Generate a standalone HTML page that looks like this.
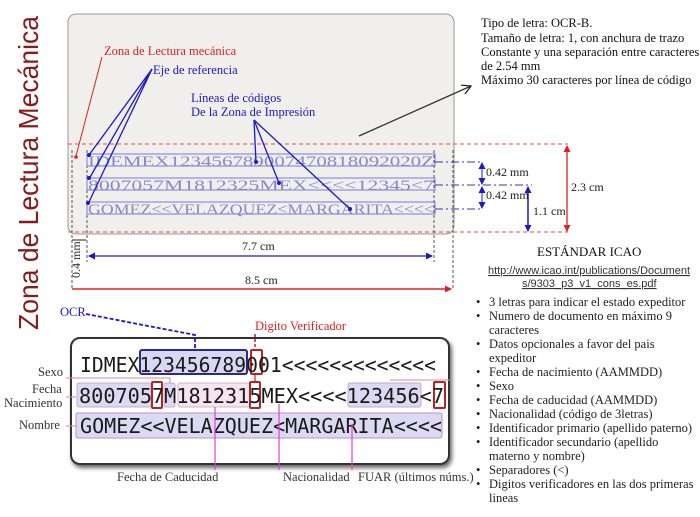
<!DOCTYPE html>
<html><head><meta charset="utf-8"><style>
html,body{margin:0;padding:0;background:#fff;width:700px;height:517px;overflow:hidden}
.mono{font-family:"DejaVu Sans Mono","Liberation Mono",monospace}
.sans{font-family:"Liberation Sans",sans-serif}
</style></head><body>
<svg width="700" height="517" viewBox="0 0 700 517" xmlns="http://www.w3.org/2000/svg" font-family="Liberation Serif, serif">
<defs>
<marker id="ab" markerUnits="userSpaceOnUse" markerWidth="7" markerHeight="7" refX="6" refY="3.5" orient="auto-start-reverse"><path d="M0,0 L7,3.5 L0,7 z" fill="#1a1acc"/></marker>
<marker id="ar" markerUnits="userSpaceOnUse" markerWidth="7" markerHeight="7" refX="6" refY="3.5" orient="auto-start-reverse"><path d="M0,0 L7,3.5 L0,7 z" fill="#e02020"/></marker>
<marker id="ak" markerUnits="userSpaceOnUse" markerWidth="10" markerHeight="10" refX="9" refY="5" orient="auto"><path d="M0,0 L9,5 L0,10" fill="none" stroke="#222" stroke-width="1.3"/></marker>
<filter id="sh"><feDropShadow dx="2" dy="3" stdDeviation="2" flood-color="#000" flood-opacity="0.6"/></filter>
</defs>

<!-- vertical title -->
<text class="sans" transform="translate(38,330) rotate(-90)" font-size="28" fill="#8b1a1a" textLength="314" lengthAdjust="spacingAndGlyphs">Zona de Lectura Mecánica</text>

<!-- card -->
<rect x="68" y="14" width="386" height="220" rx="8" fill="#f1efec" stroke="#999" stroke-width="1"/>
<path d="M68,144 H568" stroke="#e05050" stroke-dasharray="4,3" stroke-width="1"/>
<path d="M68,232 H568" stroke="#e05050" stroke-dasharray="4,3" stroke-width="1"/>
<line x1="72" y1="150" x2="72" y2="290" stroke="#555" stroke-dasharray="3,2"/>
<line x1="453" y1="150" x2="453" y2="290" stroke="#555" stroke-dasharray="3,2"/>
<line x1="87" y1="150" x2="87" y2="262" stroke="#555" stroke-dasharray="3,2"/>
<line x1="434" y1="150" x2="434" y2="262" stroke="#555" stroke-dasharray="3,2"/>

<g fill="none" stroke="#7777ee" stroke-width="1">
<rect x="87" y="154" width="348" height="12"/>
<rect x="87" y="178" width="348" height="12"/>
<rect x="87" y="202" width="348" height="12"/>
</g>
<g font-size="15" fill="#8888cc">
<text x="88" y="166" textLength="346" lengthAdjust="spacingAndGlyphs">IDEMEX123456789007470818092020Z</text>
<text x="88" y="190" textLength="346" lengthAdjust="spacingAndGlyphs">8007057M1812325MEX&lt;&lt;&lt;&lt;12345&lt;7</text>
<text x="88" y="214" textLength="346" lengthAdjust="spacingAndGlyphs">GOMEZ&lt;&lt;VELAZQUEZ&lt;MARGARITA&lt;&lt;&lt;&lt;</text>
</g>
<g stroke="#3333cc" stroke-dasharray="8,3,2,3" stroke-width="1">
<line x1="435" y1="162" x2="482" y2="162"/>
<line x1="435" y1="185" x2="532" y2="185"/>
<line x1="435" y1="209" x2="482" y2="209"/>
</g>
<line x1="482" y1="163" x2="482" y2="184" stroke="#1a1acc" marker-end="url(#ab)" marker-start="url(#ab)"/>
<line x1="482" y1="187" x2="482" y2="208" stroke="#1a1acc" marker-end="url(#ab)" marker-start="url(#ab)"/>
<line x1="528" y1="187" x2="528" y2="231" stroke="#1a1acc" stroke-width="1.5" marker-end="url(#ab)" marker-start="url(#ab)"/>
<line x1="567" y1="146" x2="567" y2="231" stroke="#e02020" stroke-width="1.3" marker-end="url(#ar)" marker-start="url(#ar)"/>
<g font-size="12" fill="#222">
<text x="486" y="176">0.42 mm</text>
<text x="486" y="199">0.42 mm</text>
<text x="533" y="215">1.1 cm</text>
<text x="571" y="191">2.3 cm</text>
<text x="242" y="250">7.7 cm</text>
<text x="245" y="284">8.5 cm</text>
<text transform="translate(80,278) rotate(-90)">0.4 mm</text>
</g>
<line x1="89" y1="256" x2="432" y2="256" stroke="#1a1acc" stroke-width="1.3" marker-end="url(#ab)" marker-start="url(#ab)"/>
<line x1="72" y1="289" x2="451" y2="289" stroke="#e02020" stroke-width="1.5" marker-end="url(#ar)"/>
<line x1="72" y1="240" x2="86" y2="240" stroke="#222" stroke-width="1"/>

<text x="104" y="55" font-size="12.5" fill="#e02020">Zona de Lectura mecánica</text>
<line x1="102" y1="57" x2="76" y2="156" stroke="#e02020" stroke-width="1"/>
<circle cx="76" cy="157" r="1.8" fill="#e02020"/>
<text x="153" y="74" font-size="12.5" fill="#1a1acc">Eje de referencia</text>
<g stroke="#1a1acc" stroke-width="1.3">
<line x1="152" y1="69" x2="89" y2="155"/>
<line x1="152" y1="69" x2="89" y2="179"/>
<line x1="152" y1="69" x2="88" y2="204"/>
<line x1="254" y1="120" x2="256" y2="162"/>
<line x1="254" y1="120" x2="279" y2="183"/>
<line x1="254" y1="120" x2="350" y2="209"/>
</g>
<g fill="#1a1acc"><circle cx="89" cy="155" r="2"/><circle cx="89" cy="178" r="2"/><circle cx="88" cy="203" r="2"/><circle cx="256" cy="162" r="2"/><circle cx="279" cy="183" r="2"/><circle cx="350" cy="209" r="2"/></g>
<text x="191" y="102" font-size="12.5" fill="#1a1acc">Líneas de códigos</text>
<text x="191" y="116" font-size="12.5" fill="#1a1acc">De la Zona de Impresión</text>
<line x1="359" y1="136" x2="471" y2="86" stroke="#333" stroke-width="1.3" marker-end="url(#ak)"/>

<g font-size="12.5" fill="#111">
<text x="481" y="27">Tipo de letra: OCR-B.</text>
<text x="481" y="42">Tamaño de letra: 1, con anchura de trazo</text>
<text x="481" y="56">Constante y una separación entre caracteres</text>
<text x="481" y="70">de 2.54 mm</text>
<text x="481" y="84">Máximo 30 caracteres por línea de código</text>
<text x="537" y="256" font-size="13">ESTÁNDAR ICAO</text>
</g>
<g class="sans" font-size="11" fill="#333" text-decoration="underline">
<text x="488" y="274" textLength="202" lengthAdjust="spacingAndGlyphs">http://www.icao.int/publications/Document</text>
<text x="522" y="287">s/9303_p3_v1_cons_es.pdf</text>
</g>
<g font-size="12.5" fill="#222">
<text x="476" y="306">•</text><text x="489" y="306">3 letras para indicar el estado expeditor</text>
<text x="476" y="320">•</text><text x="489" y="320">Numero de documento en máximo 9</text>
<text x="489" y="334">caracteres</text>
<text x="476" y="348">•</text><text x="489" y="348">Datos opcionales a favor del pais</text>
<text x="489" y="362">expeditor</text>
<text x="476" y="376">•</text><text x="489" y="376">Fecha de nacimiento (AAMMDD)</text>
<text x="476" y="390">•</text><text x="489" y="390">Sexo</text>
<text x="476" y="404">•</text><text x="489" y="404">Fecha de caducidad (AAMMDD)</text>
<text x="476" y="418">•</text><text x="489" y="418">Nacionalidad (código de 3letras)</text>
<text x="476" y="432">•</text><text x="489" y="432">Identificador primario (apellido paterno)</text>
<text x="476" y="446">•</text><text x="489" y="446">Identificador secundario (apellido</text>
<text x="489" y="460">materno y nombre)</text>
<text x="476" y="474">•</text><text x="489" y="474">Separadores (&lt;)</text>
<text x="476" y="488">•</text><text x="489" y="488">Digitos verificadores en las dos primeras</text>
<text x="489" y="502">lineas</text>
</g>

<rect x="71" y="338" width="378" height="126" rx="9" fill="#fff" stroke="#333" stroke-width="2" filter="url(#sh)"/>
<rect x="140" y="350" width="107" height="24" rx="2" fill="#d8d8f4" stroke="#2a2a88" stroke-width="2"/>
<rect x="77" y="383" width="74" height="24" rx="2" fill="#dcdaf2" stroke="#c8a8c8"/>
<rect x="164" y="383" width="11" height="24" rx="2" fill="#dcdaf2" stroke="#c8a8c8"/>
<rect x="178" y="383" width="72" height="24" rx="2" fill="#f6e4ee" stroke="#d8b0c8"/>
<rect x="348" y="383" width="73" height="24" rx="2" fill="#dcdaf2" stroke="#c8a8c8"/>
<rect x="76" y="413" width="366" height="25" rx="2" fill="#dcdaf2" stroke="#c090c0"/>
<g fill="none" stroke="#bb2222" stroke-width="2">
<rect x="251" y="350" width="11" height="24" rx="1"/>
<rect x="152" y="382" width="10" height="26" rx="1"/>
<rect x="250" y="382" width="10" height="26" rx="1"/>
<rect x="434" y="382" width="11" height="26" rx="1"/>
</g>
<g class="mono" font-size="20" fill="#1a1a1a">
<text x="80" y="372" textLength="356" lengthAdjust="spacingAndGlyphs">IDMEX123456789001&lt;&lt;&lt;&lt;&lt;&lt;&lt;&lt;&lt;&lt;&lt;&lt;&lt;</text>
<text x="79" y="403" textLength="365" lengthAdjust="spacingAndGlyphs">8007057M1812315MEX&lt;&lt;&lt;&lt;123456&lt;7</text>
<text x="80" y="433" textLength="362" lengthAdjust="spacingAndGlyphs">GOMEZ&lt;&lt;VELAZQUEZ&lt;MARGARITA&lt;&lt;&lt;&lt;</text>
</g>
<text x="60" y="316" font-size="12.5" fill="#1a1acc">OCR</text>
<path d="M86,314 L195,335 L195,350" fill="none" stroke="#1a1acc" stroke-width="1.8" stroke-dasharray="4,2"/>
<text x="255" y="330" font-size="12.5" fill="#e02020">Digito Verificador</text>
<line x1="255" y1="334" x2="255" y2="350" stroke="#bb2222" stroke-width="1.5" stroke-dasharray="3,2"/>
<g font-size="12.5" fill="#333">
<text x="38" y="376">Sexo</text>
<text x="32" y="393">Fecha</text>
<text x="4" y="407">Nacimiento</text>
<text x="19" y="429">Nombre</text>
<text x="117" y="481">Fecha de Caducidad</text>
<text x="283" y="481">Nacionalidad</text>
<text x="358" y="481">FUAR (últimos núms.)</text>
</g>
<g stroke="#d88a9a" stroke-width="1" fill="none">
<path d="M66,378 H170 V383"/>
<path d="M66,397 H76"/>
<path d="M66,426 H76"/>
<path d="M390,380 H450"/>
</g>
<g stroke="#e040d0" stroke-width="1.2">
<line x1="215" y1="407" x2="215" y2="470"/>
<line x1="279" y1="404" x2="279" y2="470"/>
<line x1="352" y1="424" x2="352" y2="470"/>
<line x1="255" y1="374" x2="255" y2="382" stroke="#bb2222"/>
</g>
</svg>
</body></html>
